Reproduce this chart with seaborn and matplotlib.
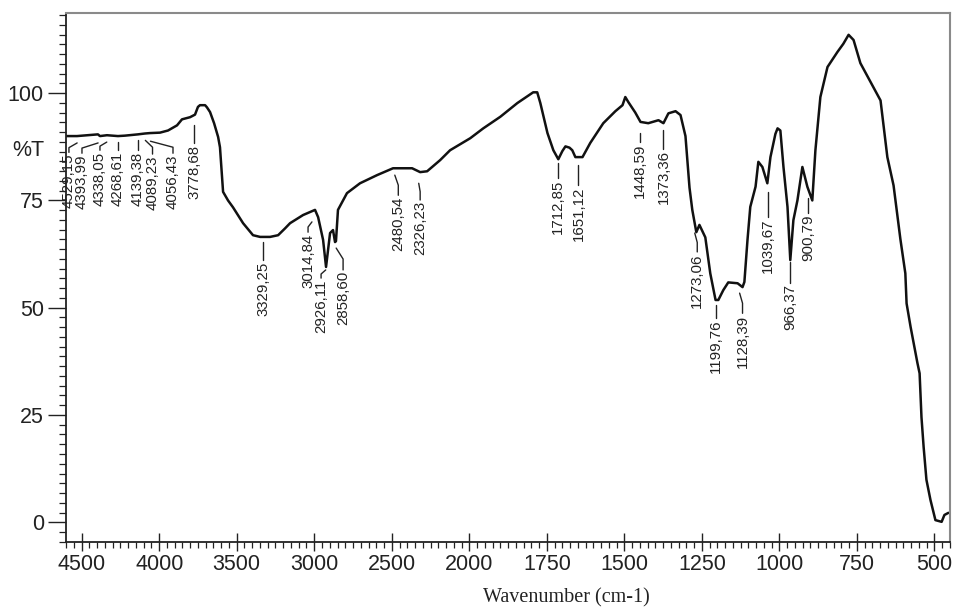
import numpy as np
import pandas as pd
import matplotlib
matplotlib.use("Agg")
import matplotlib.pyplot as plt
import seaborn as sns
from matplotlib import font_manager
from matplotlib.ticker import FixedLocator, NullFormatter

# ---------------- data ----------------
wavenumber = [4601, 4530, 4395, 4382, 4337, 4266, 4221, 4137, 4092, 4059, 3995, 3943, 3885,
              3853, 3801, 3769, 3750, 3737, 3704, 3692, 3672, 3646, 3620, 3608, 3588, 3556,
              3524, 3459, 3395, 3349, 3285, 3233, 3188, 3156, 3072, 2995, 2975, 2943, 2924,
              2911, 2898, 2879, 2866, 2860, 2847, 2789, 2705, 2595, 2492, 2369, 2317, 2272,
              2188, 2124, 1997, 1955, 1900, 1845, 1794, 1781, 1771, 1748, 1729, 1713, 1700,
              1690, 1677, 1668, 1658, 1635, 1610, 1568, 1529, 1506, 1497, 1487, 1465, 1448,
              1423, 1390, 1374, 1358, 1335, 1319, 1303, 1297, 1290, 1281, 1268, 1258, 1239,
              1223, 1206, 1197, 1181, 1165, 1135, 1119, 1113, 1103, 1094, 1077, 1068, 1055,
              1039, 1029, 1013, 1006, 997, 987, 974, 965, 955, 942, 926, 910, 894, 884, 868,
              845, 813, 794, 777, 761, 739, 697, 674, 652, 632, 610, 594, 590, 577, 555, 548,
              542, 535, 526, 513, 497, 477, 468, 455]
transmittance = [90.0, 90.0, 90.4, 90.0, 90.2, 90.0, 90.1, 90.4, 90.6, 90.7, 90.8, 91.3, 92.5,
                 93.9, 94.4, 95.0, 96.8, 97.2, 97.2, 96.7, 95.6, 93.0, 89.8, 87.4, 77.0, 75.0,
                 73.4, 69.7, 66.9, 66.5, 66.5, 66.9, 68.5, 69.7, 71.6, 72.8, 71.1, 65.8, 59.5,
                 63.5, 67.4, 68.1, 65.3, 65.5, 72.8, 76.7, 79.0, 80.9, 82.5, 82.5, 81.6, 81.8,
                 84.4, 86.7, 89.5, 91.8, 94.5, 97.7, 100.2, 100.2, 97.7, 90.7, 86.7, 84.6, 86.5,
                 87.6, 87.3, 86.7, 85.1, 85.1, 88.4, 93.0, 95.8, 97.2, 99.1, 97.9, 95.5, 93.3,
                 93.0, 93.7, 93.0, 95.3, 95.8, 94.9, 90.0, 84.4, 78.0, 72.8, 67.6, 69.3, 66.4,
                 58.0, 51.8, 51.8, 54.1, 55.9, 55.7, 54.8, 56.0, 65.8, 73.5, 78.2, 84.0, 82.8,
                 79.0, 85.1, 90.5, 91.8, 91.3, 82.8, 73.5, 61.1, 70.4, 75.0, 82.8, 78.2, 75.0,
                 86.7, 99.1, 106.1, 109.6, 111.5, 113.6, 112.4, 107.0, 101.4, 98.3, 85.1, 78.5,
                 66.0, 58.0, 51.0, 45.5, 37.1, 34.7, 24.5, 17.5, 9.9, 5.2, 0.5, 0.1, 1.7, 2.2]

peak_labels = ["4529,15", "4393,99", "4338,05", "4268,61", "4139,38", "4089,23", "4056,43",
               "3778,68", "3329,25", "3014,84", "2926,11", "2858,60", "2480,54", "2326,23",
               "1712,85", "1651,12", "1448,59", "1373,36", "1273,06", "1199,76", "1128,39",
               "1039,67", "966,37", "900,79"]
peak_wn = [4529.15, 4393.99, 4338.05, 4268.61, 4139.38, 4089.23, 4056.43, 3778.68, 3329.25,
           3014.84, 2926.11, 2858.60, 2480.54, 2326.23, 1712.85, 1651.12, 1448.59, 1373.36,
           1273.06, 1199.76, 1128.39, 1039.67, 966.37, 900.79]

# annotation placement (label x, label top y, connector top y)
label_x = [4582, 4498, 4382, 4266, 4137, 4043, 3911, 3774, 3329, 3040, 2956, 2814, 2458,
           2317, 1713, 1648, 1451, 1374, 1265, 1206, 1119, 1036, 965, 907]
label_top = [86.2, 86.0, 86.7, 86.7, 86.7, 85.8, 86.0, 88.3, 61.1, 67.6, 56.9, 58.8, 76.2,
             75.1, 80.2, 78.6, 88.6, 87.1, 63.0, 47.6, 48.7, 71.1, 55.8, 72.0]
line_top = [88.4, 88.4, 88.6, 88.6, 89.0, 89.0, 88.8, 92.6, 65.3, 70.0, 58.8, 63.9, 80.9,
            79.0, 83.7, 83.2, 90.7, 91.4, 67.4, 50.6, 53.4, 76.9, 60.7, 75.5]

major_x = [4500, 4000, 3500, 3000, 2500, 2000, 1750, 1500, 1250, 1000, 750, 500]
major_y = [0, 25, 50, 75, 100]

# ---------------- fonts ----------------
names = {f.name for f in font_manager.fontManager.ttflist}
narrow = "Liberation Sans Narrow" in names
sans = ["Liberation Sans Narrow", "Liberation Sans", "DejaVu Sans"] if narrow else ["Liberation Sans", "DejaVu Sans"]
tick_fs = 18 if narrow else 15.5
lab_fs = 13.4 if narrow else 10.8

sns.set_style("ticks")
plt.rcParams["font.family"] = sans

fig = plt.figure(figsize=(9.55, 6.08), dpi=100)
ax = fig.add_axes([66 / 955, 1 - 542 / 608, 884 / 955, 529.5 / 608])

def fwd(x):
    x = np.asarray(x, dtype=float)
    return np.where(x > 2000, 2000 + (x - 2000) / 2.0, x)

def inv(y):
    y = np.asarray(y, dtype=float)
    return np.where(y > 2000, 2000 + (y - 2000) * 2.0, y)

df = pd.DataFrame({"wn": wavenumber, "T": transmittance})
sns.lineplot(data=df, x="wn", y="T", sort=False, estimator=None, color="#111111",
             linewidth=1.8, ax=ax)
ax.set_xscale("function", functions=(fwd, inv))
ax.set_xlim(4601, 450)
ax.set_ylim(-4.6, 118.8)

# ticks
ax.xaxis.set_major_locator(FixedLocator(major_x))
minor_x = list(range(4600, 2000, -50)) + list(range(1975, 449, -25))
ax.xaxis.set_minor_locator(FixedLocator(minor_x))
ax.xaxis.set_minor_formatter(NullFormatter())
ax.set_xticklabels([str(v) for v in major_x])
ax.yaxis.set_major_locator(FixedLocator(major_y))
minor_y = [k * 25 / 11 for k in range(-2, 53)]
ax.yaxis.set_minor_locator(FixedLocator(minor_y))
ax.set_yticklabels([str(v) for v in major_y])

ax.tick_params(axis="x", which="major", direction="inout", length=13, width=1.0,
               labelsize=tick_fs, pad=2, colors="#222222")
ax.tick_params(axis="x", which="minor", direction="out", length=4, width=0.9, colors="#222222")
ax.tick_params(axis="y", which="major", direction="out", length=13, width=1.0,
               labelsize=tick_fs, pad=3, colors="#222222")
ax.tick_params(axis="y", which="minor", direction="out", length=5, width=0.9, colors="#222222")

for side in ["left", "bottom"]:
    ax.spines[side].set_color("#222222")
    ax.spines[side].set_linewidth(1.3)
for side in ["top", "right"]:
    ax.spines[side].set_visible(True)
    ax.spines[side].set_color("#8a8a8a")
    ax.spines[side].set_linewidth(1.5)

ax.set_xlabel("")
ax.set_ylabel("")
ax.text(-0.043, 86.7, "%T", transform=ax.get_yaxis_transform(), ha="center", va="center",
        fontsize=tick_fs, color="#222222")
fig.text(566 / 955, 1 - 598 / 608, "Wavenumber (cm-1)", ha="center", va="center",
         fontsize=14.5, family=["Liberation Serif", "DejaVu Serif"], color="#222222")

# peak labels
for lab, pk, lx, lt, ltop in zip(peak_labels, peak_wn, label_x, label_top, line_top):
    ax.text(lx, lt - 0.3, lab, rotation=90, ha="center", va="top", fontsize=lab_fs,
            color="#222222")
    if abs(lx - pk) < 8:
        ax.plot([lx, lx], [lt, ltop], color="#222222", lw=1.0)
    else:
        mid = lt + (ltop - lt) * 0.5
        ax.plot([lx, lx, pk], [lt, mid, ltop], color="#222222", lw=1.0)

fig.savefig("out.png", dpi=100)
